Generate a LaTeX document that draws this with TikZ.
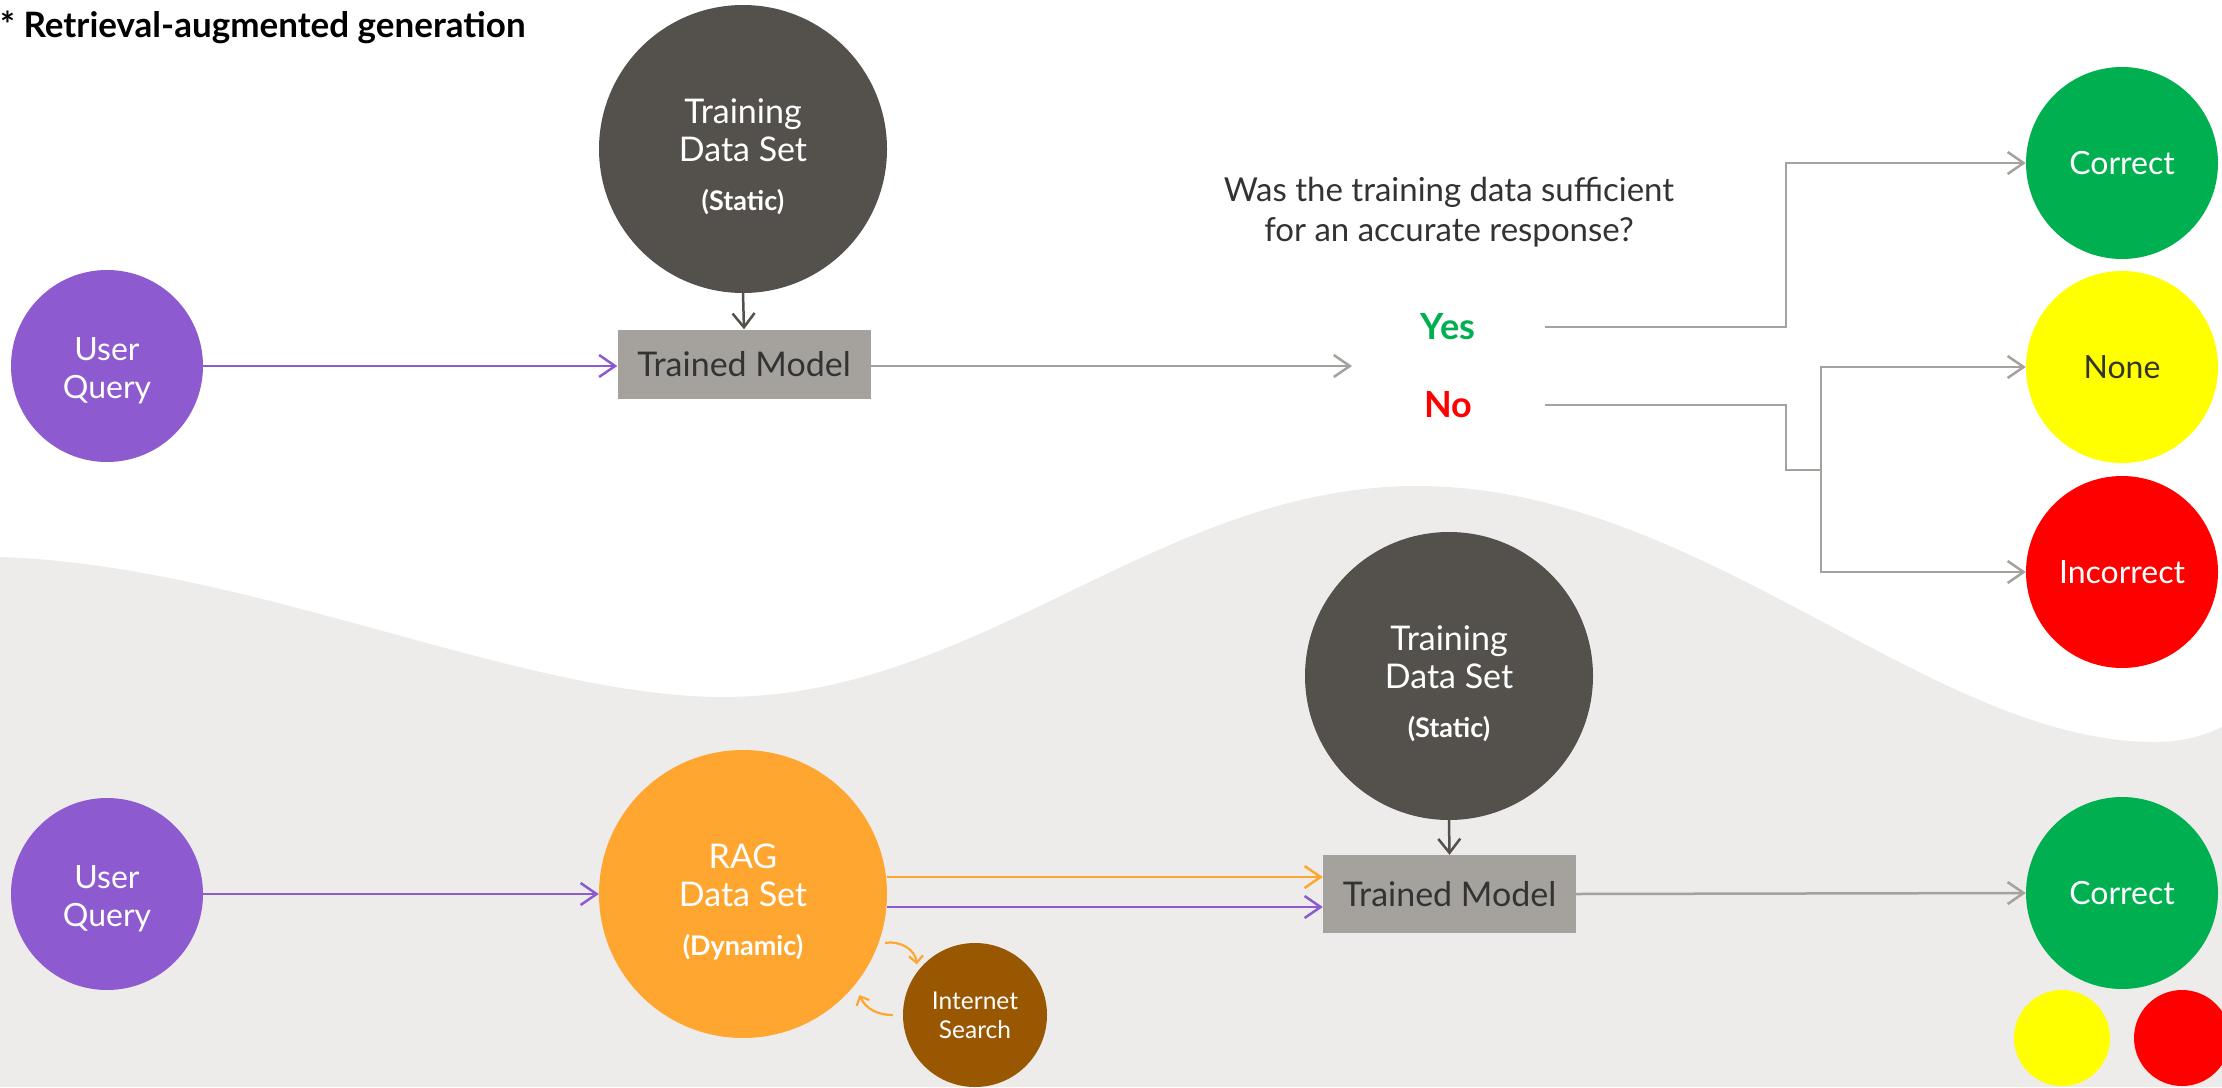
\documentclass[tikz,border=0pt]{standalone}
\usepackage{fontspec}
\setmainfont{Lato}
\usetikzlibrary{arrows.meta}
\definecolor{purp}{HTML}{8D5AD0}
\definecolor{dark}{HTML}{54514C}
\definecolor{boxg}{HTML}{A5A29D}
\definecolor{lineg}{HTML}{A5A29D}
\definecolor{orng}{HTML}{FFA630}
\definecolor{brwn}{HTML}{985700}
\definecolor{bgg}{HTML}{EDECEA}
\definecolor{grn}{HTML}{00B050}
\definecolor{ylw}{HTML}{FFFF00}
\definecolor{rd}{HTML}{FF0000}
\definecolor{txt}{HTML}{333333}
\newcommand\topstrut[1]{\rule{0pt}{#1}}
\begin{document}
\begin{tikzpicture}[x=1pt,y=-1pt,
  circ/.style={circle,inner sep=0pt,text=white,align=center,font=\fontsize{32}{38}\selectfont},
  bigcirc/.style={circ,minimum size=288pt,font=\fontsize{34}{38}\selectfont},
  medcirc/.style={circ,minimum size=192pt},
  modelbox/.style={rectangle,fill=boxg,minimum width=253pt,text=txt,font=\fontsize{34}{40}\selectfont,inner sep=0pt},
  conn/.style={line width=2.5pt,-{Straight Barb[length=16pt,width=22pt,line width=2.5pt]}},
  plainline/.style={line width=2.5pt,lineg},
  smallarr/.style={line width=2.2pt,orng,-{Straight Barb[length=7pt,width=14pt,line width=2.2pt]}},
  lbl/.style={inner sep=0pt,align=center}
]
\useasboundingbox (0,0) rectangle (2222,1087);
\fill[white] (0,0) rectangle (2222,1087);
% background wave
\fill[bgg] (0,557) .. controls (250,565) and (520,697) .. (723,697)
  .. controls (980,697) and (1160,486) .. (1417,486)
  .. controls (1700,486) and (1930,742) .. (2154,742)
  .. controls (2185,742) and (2205,735) .. (2222,727)
  -- (2222,1087) -- (0,1087) -- cycle;

% title
\node[lbl,anchor=west,font=\fontsize{35}{40}\selectfont\bfseries] (title) at (0,27) {* Retrieval-augmented generation};

% ---------- top ----------
\node[medcirc,fill=purp] (uq1) at (107,366) {\topstrut{32pt}User\\Query};
\node[bigcirc,fill=dark] (tds1) at (743,149) {\topstrut{40pt}Training\\Data Set\\[11pt]{\fontsize{27}{30}\selectfont\bfseries (Static)}};
\node[modelbox,minimum height=69pt] (tm1) at (744,364) {Trained Model};
\node[lbl,text=txt,font=\fontsize{33}{40}\selectfont] (q) at (1449,212) {Was the training data sufficient\\for an accurate response?};
\node[lbl,text=grn,font=\fontsize{36}{40}\selectfont\bfseries] (yes) at (1448,327) {Yes};
\node[lbl,text=rd,font=\fontsize{36}{40}\selectfont\bfseries] (no) at (1448,405) {No};
\coordinate (qtip) at (1352,366);
\node[medcirc,fill=grn] (cor1) at (2122,163) {Correct};
\node[medcirc,fill=ylw,text=txt] (none1) at (2122,367) {None};
\node[medcirc,fill=rd] (inc1) at (2122,572) {Incorrect};

\draw[conn,purp] (uq1.east) -- (uq1.east -| tm1.west);
\draw[line width=2.5pt,dark,-{Straight Barb[length=14pt,width=22pt,line width=2.5pt]}] (tds1.south) -- (tm1.north);
\draw[conn,lineg] (tm1.east |- qtip) -- (qtip);
\draw[conn,lineg] ([xshift=97pt]yes.center) -- ++(241,0) |- (cor1.west);
\draw[plainline] ([xshift=97pt]no.center) -- ++(241,0) -- ++(0,65) -- ++(35,0) coordinate (split);
\draw[conn,lineg] (split) |- (none1.west);
\draw[conn,lineg] (split) |- (inc1.west);

% ---------- bottom ----------
\node[medcirc,fill=purp] (uq2) at (107,894) {\topstrut{32pt}User\\Query};
\node[bigcirc,fill=orng] (rag) at (743,894) {\topstrut{40pt}RAG\\Data Set\\[11pt]{\fontsize{27}{30}\selectfont\bfseries (Dynamic)}};
\node[circ,minimum size=144pt,fill=brwn,font=\fontsize{24.5}{29}\selectfont] (inet) at (975,1015) {Internet\\Search};
\node[bigcirc,fill=dark] (tds2) at (1449,676) {\topstrut{40pt}Training\\Data Set\\[11pt]{\fontsize{27}{30}\selectfont\bfseries (Static)}};
\node[modelbox,minimum height=78pt] (tm2) at (1449.5,894) {Trained Model};
\node[medcirc,fill=grn] (cor2) at (2122,893) {Correct};
\node[circ,minimum size=96pt,fill=ylw] (ysmall) at (2062,1038) {};
\node[circ,minimum size=96pt,fill=rd] (rsmall) at (2182,1038) {};

\draw[conn,purp] (uq2.east) -- (rag.west);
\draw[conn,orng] ([yshift=17pt]rag.east) -- ([yshift=17pt]tm2.west);
\draw[conn,purp] ([yshift=-13pt]rag.east) -- ([yshift=-13pt]tm2.west);
\draw[line width=2.5pt,dark,-{Straight Barb[length=14pt,width=22pt,line width=2.5pt]}] (tds2.south) -- (tm2.north);
\draw[conn,lineg] (tm2.east) -- (cor2.west);
\draw[smallarr] ([shift={(-19:6pt)}]rag.-19) to[out=10,in=95] ([shift={(139:5pt)}]inet.139);
\draw[smallarr] ([shift={(180:10pt)}]inet.180) to[out=180,in=-65] ([shift={(-41:10pt)}]rag.-41);
\end{tikzpicture}
\end{document}
